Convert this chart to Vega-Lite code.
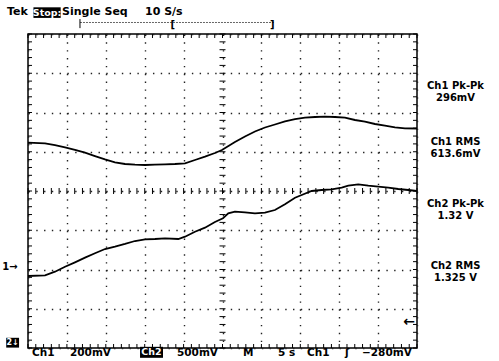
{
  "$schema": "https://vega.github.io/schema/vega-lite/v6.json",
  "width": 389,
  "height": 314,
  "autosize": "none",
  "padding": {"left": 28, "top": 34, "right": 82, "bottom": 13},
  "background": "white",
  "config": {
    "view": {"stroke": "black", "strokeWidth": 1.5},
    "text": {"font": "DejaVu Sans", "fontWeight": "bold", "color": "black"}
  },
  "resolve": {"axis": {"x": "independent", "y": "independent"}},
  "datasets": {
    "ch1": [
      {"t": 0, "v": 1.23}, {"t": 2.19, "v": 1.215}, {"t": 3.47, "v": 1.17}, {"t": 4.76, "v": 1.11},
      {"t": 6.04, "v": 1.045}, {"t": 7.33, "v": 0.975}, {"t": 8.61, "v": 0.89}, {"t": 9.9, "v": 0.807},
      {"t": 11.18, "v": 0.731}, {"t": 12.47, "v": 0.688}, {"t": 13.75, "v": 0.67}, {"t": 15.04, "v": 0.662},
      {"t": 16.32, "v": 0.67}, {"t": 17.61, "v": 0.68}, {"t": 18.89, "v": 0.688}, {"t": 20.18, "v": 0.706},
      {"t": 21.46, "v": 0.79}, {"t": 22.75, "v": 0.874}, {"t": 24.03, "v": 0.968}, {"t": 24.93, "v": 1.045},
      {"t": 26.6, "v": 1.248}, {"t": 27.89, "v": 1.389}, {"t": 29.17, "v": 1.516}, {"t": 30.46, "v": 1.618},
      {"t": 31.74, "v": 1.694}, {"t": 33.03, "v": 1.771}, {"t": 34.32, "v": 1.834}, {"t": 35.6, "v": 1.868},
      {"t": 36.89, "v": 1.885}, {"t": 38.17, "v": 1.893}, {"t": 39.46, "v": 1.885}, {"t": 40.74, "v": 1.868},
      {"t": 42.03, "v": 1.809}, {"t": 43.31, "v": 1.766}, {"t": 44.6, "v": 1.707}, {"t": 45.88, "v": 1.664},
      {"t": 47.17, "v": 1.623}, {"t": 48.45, "v": 1.597}, {"t": 50, "v": 1.592}
    ],
    "ch2": [
      {"t": 0, "v": -2.166}, {"t": 2.19, "v": -2.148}, {"t": 3.47, "v": -2.056}, {"t": 4.76, "v": -1.929},
      {"t": 6.04, "v": -1.817}, {"t": 7.33, "v": -1.699}, {"t": 8.61, "v": -1.587}, {"t": 9.9, "v": -1.478},
      {"t": 11.18, "v": -1.419}, {"t": 12.47, "v": -1.35}, {"t": 13.75, "v": -1.274}, {"t": 15.04, "v": -1.231},
      {"t": 16.32, "v": -1.223}, {"t": 17.61, "v": -1.205}, {"t": 19.32, "v": -1.223}, {"t": 20.18, "v": -1.164},
      {"t": 21.46, "v": -1.037}, {"t": 22.75, "v": -0.935}, {"t": 24.03, "v": -0.79}, {"t": 25.06, "v": -0.696},
      {"t": 25.74, "v": -0.568}, {"t": 26.6, "v": -0.527}, {"t": 27.89, "v": -0.543}, {"t": 29.17, "v": -0.568},
      {"t": 30.46, "v": -0.553}, {"t": 31.74, "v": -0.484}, {"t": 33.03, "v": -0.339}, {"t": 34.32, "v": -0.171},
      {"t": 35.18, "v": -0.102}, {"t": 36.46, "v": 0}, {"t": 37.75, "v": 0.025}, {"t": 39.03, "v": 0.043},
      {"t": 40.32, "v": 0.084}, {"t": 41.17, "v": 0.135}, {"t": 42.45, "v": 0.171}, {"t": 43.74, "v": 0.135},
      {"t": 45.02, "v": 0.11}, {"t": 46.31, "v": 0.084}, {"t": 47.59, "v": 0.051}, {"t": 48.88, "v": 0.025},
      {"t": 49.96, "v": 0}
    ],
    "ticksx": [
      {"t": 0}, {"t": 1}, {"t": 2}, {"t": 3}, {"t": 4}, {"t": 5}, {"t": 6}, {"t": 7}, {"t": 8}, {"t": 9},
      {"t": 10}, {"t": 11}, {"t": 12}, {"t": 13}, {"t": 14}, {"t": 15}, {"t": 16}, {"t": 17}, {"t": 18}, {"t": 19},
      {"t": 20}, {"t": 21}, {"t": 22}, {"t": 23}, {"t": 24}, {"t": 25}, {"t": 26}, {"t": 27}, {"t": 28}, {"t": 29},
      {"t": 30}, {"t": 31}, {"t": 32}, {"t": 33}, {"t": 34}, {"t": 35}, {"t": 36}, {"t": 37}, {"t": 38}, {"t": 39},
      {"t": 40}, {"t": 41}, {"t": 42}, {"t": 43}, {"t": 44}, {"t": 45}, {"t": 46}, {"t": 47}, {"t": 48}, {"t": 49},
      {"t": 50}
    ],
    "ticksy": [
      {"d": -4}, {"d": -3.8}, {"d": -3.6}, {"d": -3.4}, {"d": -3.2}, {"d": -3}, {"d": -2.8}, {"d": -2.6}, {"d": -2.4}, {"d": -2.2},
      {"d": -2}, {"d": -1.8}, {"d": -1.6}, {"d": -1.4}, {"d": -1.2}, {"d": -1}, {"d": -0.8}, {"d": -0.6}, {"d": -0.4}, {"d": -0.2},
      {"d": 0}, {"d": 0.2}, {"d": 0.4}, {"d": 0.6}, {"d": 0.8}, {"d": 1}, {"d": 1.2}, {"d": 1.4}, {"d": 1.6}, {"d": 1.8},
      {"d": 2}, {"d": 2.2}, {"d": 2.4}, {"d": 2.6}, {"d": 2.8}, {"d": 3}, {"d": 3.2}, {"d": 3.4}, {"d": 3.6}, {"d": 3.8},
      {"d": 4}
    ],
    "measures": [
      {"label": "Ch1 Pk-Pk\n296mV", "t": 54.95, "d": 2.675},
      {"label": "Ch1 RMS\n613.6mV", "t": 54.95, "d": 1.236},
      {"label": "Ch2 Pk-Pk\n1.32 V", "t": 54.95, "d": -0.331},
      {"label": "Ch2 RMS\n1.325 V", "t": 54.95, "d": -1.91}
    ],
    "header": [
      {"label": "Tek", "t": -2.7, "d": 4.573},
      {"label": "Single Seq", "t": 4.37, "d": 4.573},
      {"label": "10 S/s", "t": 15.04, "d": 4.573}
    ],
    "footer": [
      {"label": "Ch1", "t": 0.51, "d": -4.204},
      {"label": "200mV", "t": 5.4, "d": -4.204},
      {"label": "500mV", "t": 19.15, "d": -4.204},
      {"label": "M", "t": 27.63, "d": -4.204},
      {"label": "5 s", "t": 32.13, "d": -4.204},
      {"label": "Ch1", "t": 35.86, "d": -4.204},
      {"label": "ʃ", "t": 40.74, "d": -4.204},
      {"label": "−280mV", "t": 42.93, "d": -4.204}
    ],
    "markers": [
      {"label": "1→", "t": -2.31, "d": -1.936},
      {"label": "[", "t": 18.6, "d": 4.22},
      {"label": "]", "t": 31.4, "d": 4.22}
    ],
    "trigger": [
      {"label": "←", "t": 49.0, "d": -3.34}
    ],
    "boxes": [
      {"t1": 0.7, "t2": 4.2, "d1": 4.68, "d2": 4.41},
      {"t1": 14.4, "t2": 17.35, "d1": -3.97, "d2": -4.25},
      {"t1": -2.8, "t2": -1.15, "d1": -3.74, "d2": -3.99}
    ],
    "boxtext": [
      {"label": "Stop:", "t": 2.45, "d": 4.545, "size": "big"},
      {"label": "Ch2", "t": 15.87, "d": -4.11, "size": "big"},
      {"label": "2↓", "t": -1.97, "d": -3.865, "size": "small"}
    ],
    "bracket": [
      {"t1": 6.68, "t2": 31.6, "d": 4.293}
    ],
    "bars": [
      {"t": 6.68, "d1": 4.38, "d2": 4.15}
    ]
  },
  "layer": [
    {
      "data": {"name": "ch1"},
      "mark": {"type": "line", "color": "black", "strokeWidth": 1.8},
      "encoding": {
        "x": {"field": "t", "type": "quantitative", "scale": {"domain": [0, 50], "nice": false, "zero": false},
          "axis": {"orient": "bottom", "values": [0,5,10,15,20,25,30,35,40,45,50], "grid": true, "gridDash": [1.4, 6.45], "gridColor": "#222", "gridWidth": 1.4,
            "ticks": false, "labels": false, "domain": false, "title": null}},
        "y": {"field": "v", "type": "quantitative", "scale": {"domain": [-4, 4], "nice": false, "zero": false},
          "axis": {"orient": "left", "values": [-4,-3,-2,-1,0,1,2,3,4], "grid": true, "gridDash": [1.4, 6.38], "gridColor": "#222", "gridWidth": 1.4,
            "ticks": false, "labels": false, "domain": false, "title": null}}
      }
    },
    {
      "mark": {"type": "rule", "color": "black", "strokeWidth": 1},
      "encoding": {
        "y": {"datum": 0, "type": "quantitative", "scale": {"domain": [-4, 4], "nice": false, "zero": false}, "axis": null}
      }
    },
    {
      "mark": {"type": "rule", "color": "black", "strokeWidth": 1},
      "encoding": {
        "x": {"datum": 25, "type": "quantitative", "scale": {"domain": [0, 50], "nice": false, "zero": false}, "axis": null}
      }
    },
    {
      "data": {"name": "ticksx"},
      "mark": {"type": "tick", "orient": "vertical", "color": "black", "size": 4, "thickness": 1, "yOffset": -2, "opacity": 1},
      "encoding": {
        "x": {"field": "t", "type": "quantitative", "scale": {"domain": [0, 50], "nice": false, "zero": false}, "axis": null},
        "y": {"datum": -4, "type": "quantitative", "scale": {"domain": [-4, 4], "nice": false, "zero": false}, "axis": null}
      }
    },
    {
      "data": {"name": "ticksx"},
      "mark": {"type": "tick", "orient": "vertical", "color": "black", "size": 4, "thickness": 1, "yOffset": 2, "opacity": 1},
      "encoding": {
        "x": {"field": "t", "type": "quantitative", "scale": {"domain": [0, 50], "nice": false, "zero": false}, "axis": null},
        "y": {"datum": 4, "type": "quantitative", "scale": {"domain": [-4, 4], "nice": false, "zero": false}, "axis": null}
      }
    },
    {
      "data": {"name": "ticksx"},
      "mark": {"type": "tick", "orient": "vertical", "color": "black", "size": 6, "thickness": 1, "opacity": 1},
      "encoding": {
        "x": {"field": "t", "type": "quantitative", "scale": {"domain": [0, 50], "nice": false, "zero": false}, "axis": null},
        "y": {"datum": 0, "type": "quantitative", "scale": {"domain": [-4, 4], "nice": false, "zero": false}, "axis": null}
      }
    },
    {
      "data": {"name": "ticksy"},
      "mark": {"type": "tick", "orient": "horizontal", "color": "black", "size": 4, "thickness": 1, "xOffset": 2, "opacity": 1},
      "encoding": {
        "y": {"field": "d", "type": "quantitative", "scale": {"domain": [-4, 4], "nice": false, "zero": false}, "axis": null},
        "x": {"datum": 0, "type": "quantitative", "scale": {"domain": [0, 50], "nice": false, "zero": false}, "axis": null}
      }
    },
    {
      "data": {"name": "ticksy"},
      "mark": {"type": "tick", "orient": "horizontal", "color": "black", "size": 4, "thickness": 1, "xOffset": -2, "opacity": 1},
      "encoding": {
        "y": {"field": "d", "type": "quantitative", "scale": {"domain": [-4, 4], "nice": false, "zero": false}, "axis": null},
        "x": {"datum": 50, "type": "quantitative", "scale": {"domain": [0, 50], "nice": false, "zero": false}, "axis": null}
      }
    },
    {
      "data": {"name": "ticksy"},
      "mark": {"type": "tick", "orient": "horizontal", "color": "black", "size": 6, "thickness": 1, "opacity": 1},
      "encoding": {
        "y": {"field": "d", "type": "quantitative", "scale": {"domain": [-4, 4], "nice": false, "zero": false}, "axis": null},
        "x": {"datum": 25, "type": "quantitative", "scale": {"domain": [0, 50], "nice": false, "zero": false}, "axis": null}
      }
    },
    {
      "data": {"name": "ch2"},
      "mark": {"type": "line", "color": "black", "strokeWidth": 1.8},
      "encoding": {
        "x": {"field": "t", "type": "quantitative", "scale": {"domain": [0, 50], "nice": false, "zero": false}, "axis": null},
        "y": {"field": "v", "type": "quantitative", "scale": {"domain": [-4, 4], "nice": false, "zero": false}, "axis": null}
      }
    },
    {
      "data": {"name": "boxes"},
      "mark": {"type": "rect", "color": "black"},
      "encoding": {
        "x": {"field": "t1", "type": "quantitative", "scale": {"domain": [0, 50], "nice": false, "zero": false}, "axis": null},
        "x2": {"field": "t2"},
        "y": {"field": "d1", "type": "quantitative", "scale": {"domain": [-4, 4], "nice": false, "zero": false}, "axis": null},
        "y2": {"field": "d2"}
      }
    },
    {
      "data": {"name": "header"},
      "mark": {"type": "text", "fontSize": 11, "align": "left", "baseline": "middle"},
      "encoding": {
        "x": {"field": "t", "type": "quantitative", "scale": {"domain": [0, 50], "nice": false, "zero": false}, "axis": null},
        "y": {"field": "d", "type": "quantitative", "scale": {"domain": [-4, 4], "nice": false, "zero": false}, "axis": null},
        "text": {"field": "label"}
      }
    },
    {
      "data": {"name": "bracket"},
      "mark": {"type": "rule", "color": "#666", "strokeWidth": 1, "strokeDash": [2, 1]},
      "encoding": {
        "x": {"field": "t1", "type": "quantitative", "scale": {"domain": [0, 50], "nice": false, "zero": false}, "axis": null},
        "x2": {"field": "t2"},
        "y": {"field": "d", "type": "quantitative", "scale": {"domain": [-4, 4], "nice": false, "zero": false}, "axis": null}
      }
    },
    {
      "data": {"name": "bars"},
      "mark": {"type": "rule", "color": "black", "strokeWidth": 1},
      "encoding": {
        "x": {"field": "t", "type": "quantitative", "scale": {"domain": [0, 50], "nice": false, "zero": false}, "axis": null},
        "y": {"field": "d1", "type": "quantitative", "scale": {"domain": [-4, 4], "nice": false, "zero": false}, "axis": null},
        "y2": {"field": "d2"}
      }
    },
    {
      "data": {"name": "measures"},
      "mark": {"type": "text", "fontSize": 10, "align": "center", "baseline": "middle", "lineBreak": "\n", "lineHeight": 12},
      "encoding": {
        "x": {"field": "t", "type": "quantitative", "scale": {"domain": [0, 50], "nice": false, "zero": false}, "axis": null},
        "y": {"field": "d", "type": "quantitative", "scale": {"domain": [-4, 4], "nice": false, "zero": false}, "axis": null},
        "text": {"field": "label"}
      }
    },
    {
      "data": {"name": "footer"},
      "mark": {"type": "text", "fontSize": 10.5, "align": "left", "baseline": "alphabetic"},
      "encoding": {
        "x": {"field": "t", "type": "quantitative", "scale": {"domain": [0, 50], "nice": false, "zero": false}, "axis": null},
        "y": {"field": "d", "type": "quantitative", "scale": {"domain": [-4, 4], "nice": false, "zero": false}, "axis": null},
        "text": {"field": "label"}
      }
    },
    {
      "data": {"name": "markers"},
      "mark": {"type": "text", "fontSize": 10, "align": "center", "baseline": "middle"},
      "encoding": {
        "x": {"field": "t", "type": "quantitative", "scale": {"domain": [0, 50], "nice": false, "zero": false}, "axis": null},
        "y": {"field": "d", "type": "quantitative", "scale": {"domain": [-4, 4], "nice": false, "zero": false}, "axis": null},
        "text": {"field": "label"}
      }
    },
    {
      "data": {"name": "trigger"},
      "mark": {"type": "text", "fontSize": 14, "align": "center", "baseline": "middle"},
      "encoding": {
        "x": {"field": "t", "type": "quantitative", "scale": {"domain": [0, 50], "nice": false, "zero": false}, "axis": null},
        "y": {"field": "d", "type": "quantitative", "scale": {"domain": [-4, 4], "nice": false, "zero": false}, "axis": null},
        "text": {"field": "label"}
      }
    },
    {
      "data": {"name": "boxtext"},
      "transform": [{"filter": "datum.size === 'big'"}],
      "mark": {"type": "text", "fontSize": 9.5, "align": "center", "baseline": "middle", "color": "white"},
      "encoding": {
        "x": {"field": "t", "type": "quantitative", "scale": {"domain": [0, 50], "nice": false, "zero": false}, "axis": null},
        "y": {"field": "d", "type": "quantitative", "scale": {"domain": [-4, 4], "nice": false, "zero": false}, "axis": null},
        "text": {"field": "label"}
      }
    },
    {
      "data": {"name": "boxtext"},
      "transform": [{"filter": "datum.size === 'small'"}],
      "mark": {"type": "text", "fontSize": 8, "align": "center", "baseline": "middle", "color": "white"},
      "encoding": {
        "x": {"field": "t", "type": "quantitative", "scale": {"domain": [0, 50], "nice": false, "zero": false}, "axis": null},
        "y": {"field": "d", "type": "quantitative", "scale": {"domain": [-4, 4], "nice": false, "zero": false}, "axis": null},
        "text": {"field": "label"}
      }
    }
  ]
}
